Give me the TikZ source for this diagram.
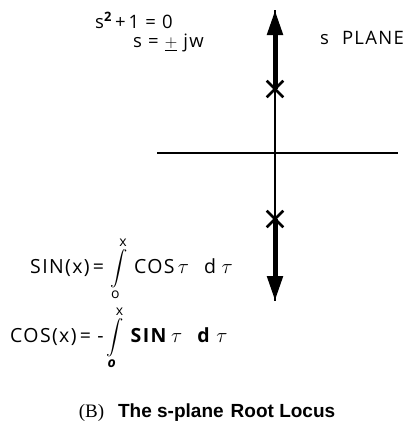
\documentclass[tikz,border=0pt]{standalone}
\usepackage{amsmath}
\usepackage{fontspec}
\setmainfont{Open Sans}[LetterSpace=7]
\newfontfamily\capfont{Liberation Sans}
\newfontfamily\capserif{Liberation Serif}
\usepackage{tikz}
\usetikzlibrary{arrows.meta, shapes.misc, positioning}
\colorlet{ink}{black}
\newcommand{\limtext}[1]{\mbox{\fontsize{14}{14}\selectfont #1}}

\begin{document}
\begin{tikzpicture}[x=1pt,y=-1pt,
    thinaxis/.style={ink, line width=1.8pt},
    locus/.style={ink, line width=5pt, -{Triangle[length=25pt, width=15pt]}},
    pole/.style={cross out, draw=ink, line width=2.6pt, minimum size=14pt, inner sep=0pt},
    lbl/.style={font=\fontsize{18.5}{21}\selectfont, inner sep=0pt, anchor=base west}]
  \useasboundingbox (0,0) rectangle (412,434);

  % axes
  \coordinate (top) at (275,10);
  \coordinate (bot) at (275,301);
  \coordinate (west) at (157,153);
  \coordinate (east) at (398,153);
  \draw[thinaxis] (west) -- (east);
  \draw[thinaxis] (top) -- (bot);

  % poles at +/- jw and the locus branches
  \node[pole] (pup) at (275,89) {};
  \node[pole] (plo) at (275,219) {};
  \draw[locus] (pup.center) -- (top);
  \draw[locus] (plo.center) -- (bot);

  % equations
  \node[lbl] (char) at (95,28) {s\textsuperscript{\bfseries 2}\,+\,1 = 0};
  \node[lbl] (roots) at (133,47) {s = $\underline{+}$ jw};
  \node[lbl] (plane) at (320,44) {s\hspace{13pt}PLANE};
  \node[lbl, font=\fontsize{19.5}{22}\selectfont] (sinx) at (30,273)
    {SIN(x)\,= {\fontsize{16}{18}\selectfont$\displaystyle\int\limits_{\limtext{o}}^{\limtext{x}}$} COS\,$\tau$\;\, d\;$\tau$};
  \node[lbl, font=\fontsize{19.5}{22}\selectfont] (cosx) at (10,342)
    {COS(x)\,= -\,{\fontsize{16}{18}\selectfont$\displaystyle\int\limits_{\limtext{\itshape\bfseries o}}^{\limtext{x}}$} \textbf{SIN}\,$\tau$\;\, \textbf{d}\;$\tau$};

  % caption
  \node[font=\fontsize{19}{22}\selectfont, inner sep=0pt] (cap) at (207,413)
    {{\capserif (B)}\hspace{14pt}{\capfont\bfseries The s-plane\hspace{7pt}Root Locus}};
\end{tikzpicture}
\end{document}
